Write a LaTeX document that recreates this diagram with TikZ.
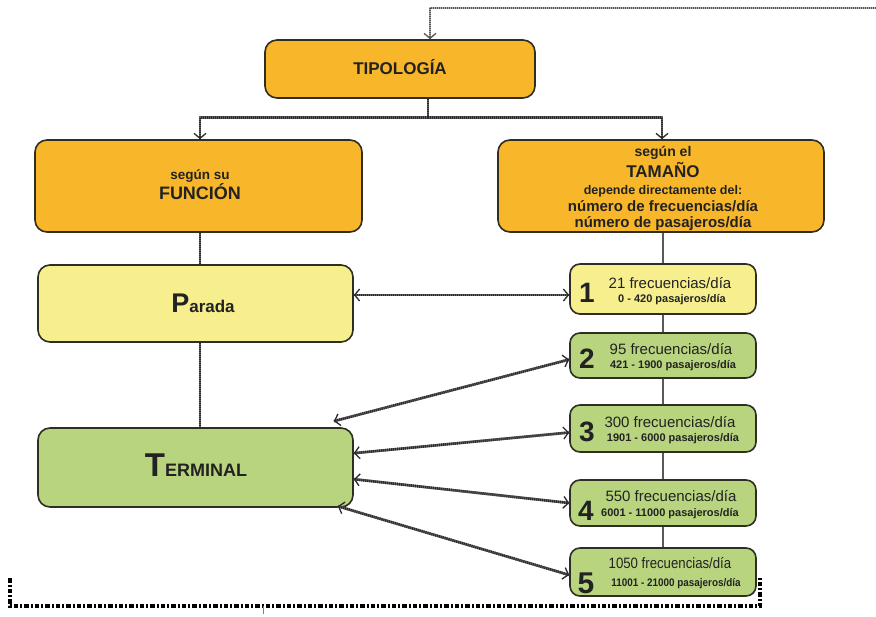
\documentclass[tikz,border=0pt]{standalone}
\usepackage{fontspec}
\setmainfont{Liberation Sans}
\usetikzlibrary{arrows.meta,calc}
\definecolor{orangeF}{HTML}{F8B62A}
\definecolor{yellowF}{HTML}{F7EE8E}
\definecolor{greenF}{HTML}{B8D47E}
\definecolor{boxline}{HTML}{2E2E22}
\definecolor{txt}{HTML}{222222}
\definecolor{hatchc}{HTML}{2A2A2A}
\newcommand{\fsz}[1]{\fontsize{#1}{#1}\selectfont}
\begin{document}
\begin{tikzpicture}[x=1pt,y=-1pt,
  boxstyle/.style={draw=boxline,line width=1.6pt,rounded corners=12pt,inner sep=0pt},
  lab/.style={anchor=base,inner sep=0pt,text=txt},
  hatch/.style={preaction={draw=gray!75!black,line width=2.6pt,-},draw=hatchc,line width=2.6pt,dash pattern=on 1pt off 1pt},
  thinhatch/.style={preaction={draw=gray!60,line width=1.4pt,-},draw=hatchc!80,line width=1.4pt,dash pattern=on 1pt off 1pt},
  plainline/.style={draw=gray!70!black,line width=2pt},
  bracket/.style={draw=black,line width=3.4pt,dash pattern=on 4.5pt off 2pt on 2pt off 2pt},
  >={Straight Barb[length=5pt,width=12pt,line width=1.3pt]}]
\useasboundingbox (0,0) rectangle (876,617);

% bottom bracket
\coordinate (bl1) at (10,578);
\coordinate (bl2) at (10,606);
\coordinate (br2) at (760,606);
\coordinate (br1) at (760,578);
\draw[bracket] (bl1) -- (bl2) -- (br2) -- (br1);
\coordinate (tk1) at (263,606);
\coordinate (tk2) at (263,614);
\draw[black!50,line width=0.6pt] (tk1) -- (tk2);

% boxes
\node[boxstyle,fill=orangeF,minimum width=270pt,minimum height=58pt] (tip) at (400,69) {};
\node[boxstyle,fill=orangeF,minimum width=327pt,minimum height=92pt] (fun) at (198.5,186) {};
\node[boxstyle,fill=orangeF,minimum width=326pt,minimum height=92pt] (tam) at (661,186) {};
\node[boxstyle,fill=yellowF,minimum width=315pt,minimum height=77pt] (par) at (195.5,303.5) {};
\node[boxstyle,fill=greenF,minimum width=315pt,minimum height=79pt] (ter) at (195.5,467.5) {};
\node[boxstyle,fill=yellowF,minimum width=186pt,minimum height=50pt,rounded corners=10pt] (b1) at (663,289) {};
\node[boxstyle,fill=greenF,minimum width=186pt,minimum height=45pt,rounded corners=10pt] (b2) at (663,355.5) {};
\node[boxstyle,fill=greenF,minimum width=186pt,minimum height=47pt,rounded corners=10pt] (b3) at (663,428.5) {};
\node[boxstyle,fill=greenF,minimum width=186pt,minimum height=46pt,rounded corners=10pt] (b4) at (663,503) {};
\node[boxstyle,fill=greenF,minimum width=186pt,minimum height=48pt,rounded corners=10pt] (b5) at (663,572) {};

% texts
\node[lab,font=\bfseries\fsz{17}] (tipT) at (400,75) {TIPOLOGÍA};
\node[lab,font=\bfseries\fsz{13.5}] (funA) at (200,180) {según su};
\node[lab,font=\bfseries\fsz{18}] (funB) at (200,200) {FUNCIÓN};
\node[lab,font=\bfseries\fsz{14}] (tamA) at (663,157) {según el};
\node[lab,font=\bfseries\fsz{17}] (tamB) at (663,178) {TAMAÑO};
\node[lab,font=\bfseries\fsz{12.5}] (tamC) at (663,195) {depende directamente del:};
\node[lab,font=\bfseries\fsz{15}] (tamD) at (663,212) {número de frecuencias/día};
\node[lab,font=\bfseries\fsz{15}] (tamE) at (663,228) {número de pasajeros/día};
\node[lab,font=\bfseries] (parT) at (203,313) {\fsz{27}P\fsz{17}arada};
\node[lab,font=\bfseries] (terT) at (196,477) {\fsz{33}T\fsz{18}ERMINAL};

\node[lab,font=\bfseries\fsz{28}] (n1) at (587,303) {1};
\node[lab,font=\fsz{15}] (l1a) at (670,289) {21 frecuencias/día};
\node[lab,font=\bfseries\fsz{11}] (l1b) at (672,303) {0 - 420 pasajeros/día};
\node[lab,font=\bfseries\fsz{28}] (n2) at (587,369) {2};
\node[lab,font=\fsz{15}] (l2a) at (671,355) {95 frecuencias/día};
\node[lab,font=\bfseries\fsz{11}] (l2b) at (673,369) {421 - 1900 pasajeros/día};
\node[lab,font=\bfseries\fsz{28}] (n3) at (587,442) {3};
\node[lab,font=\fsz{15}] (l3a) at (670,428) {300 frecuencias/día};
\node[lab,font=\bfseries\fsz{11}] (l3b) at (673,442) {1901 - 6000 pasajeros/día};
\node[lab,font=\bfseries\fsz{28}] (n4) at (586,520) {4};
\node[lab,font=\fsz{15}] (l4a) at (671,502) {550 frecuencias/día};
\node[lab,font=\bfseries\fsz{11}] (l4b) at (670,516) {6001 - 11000 pasajeros/día};
\node[lab,font=\bfseries\fsz{30}] (n5) at (586,593) {5};
\node[lab,font=\fsz{15}] (l5a) at (670,568) {\scalebox{0.88}[1]{1050 frecuencias/día}};
\node[lab,font=\bfseries\fsz{11}] (l5b) at (676,586) {\scalebox{0.9}[1]{11001 - 21000 pasajeros/día}};

% top connector
\coordinate (tin) at ($(tip.north)+(30,0)$);
\coordinate (tr) at (876,8);
\draw[thinhatch,->] (tr) -- (tin |- tr) -- (tin);

% split connector
\coordinate (tout) at ($(tip.south)+(28,0)$);
\coordinate (jn) at ($(tout)+(0,19)$);
\draw[hatch] (tout) -- (jn);
\draw[hatch,->] (jn) -| ($(fun.north)+(1.5,0)$);
\draw[hatch,->] (jn) -| ($(tam.north)+(1,0)$);

% vertical connectors
\draw[hatch] ($(fun.south)+(1.5,0)$) -- ($(par.north)+(4.5,0)$);
\draw[hatch] ($(par.south)+(4.5,0)$) -- ($(ter.north)+(4.5,0)$);
\draw[plainline] (b1.north |- tam.south) -- (b1.north);
\draw[plainline] (b1.south) -- (b2.north);
\draw[plainline] (b2.south) -- (b3.north);
\draw[plainline] (b3.south) -- (b4.north);
\draw[plainline] (b4.south) -- (b5.north);

% double arrows
\coordinate (e1) at ($(b1.west)+(0,6)$);
\draw[hatch,<->] (par.east |- e1) -- (e1);
\draw[hatch,<->] ($(ter.north east)+(-20,-6)$) -- ($(b2.west)+(0,4)$);
\draw[hatch,<->] ($(ter.north east)+(0,26)$) -- ($(b3.west)+(0,4)$);
\draw[hatch,<->] ($(ter.north east)+(0,52)$) -- (b4.west);
\draw[hatch,<->] ($(ter.north east)+(-16,79)$) -- ($(b5.west)+(0,3)$);
\end{tikzpicture}
\end{document}
